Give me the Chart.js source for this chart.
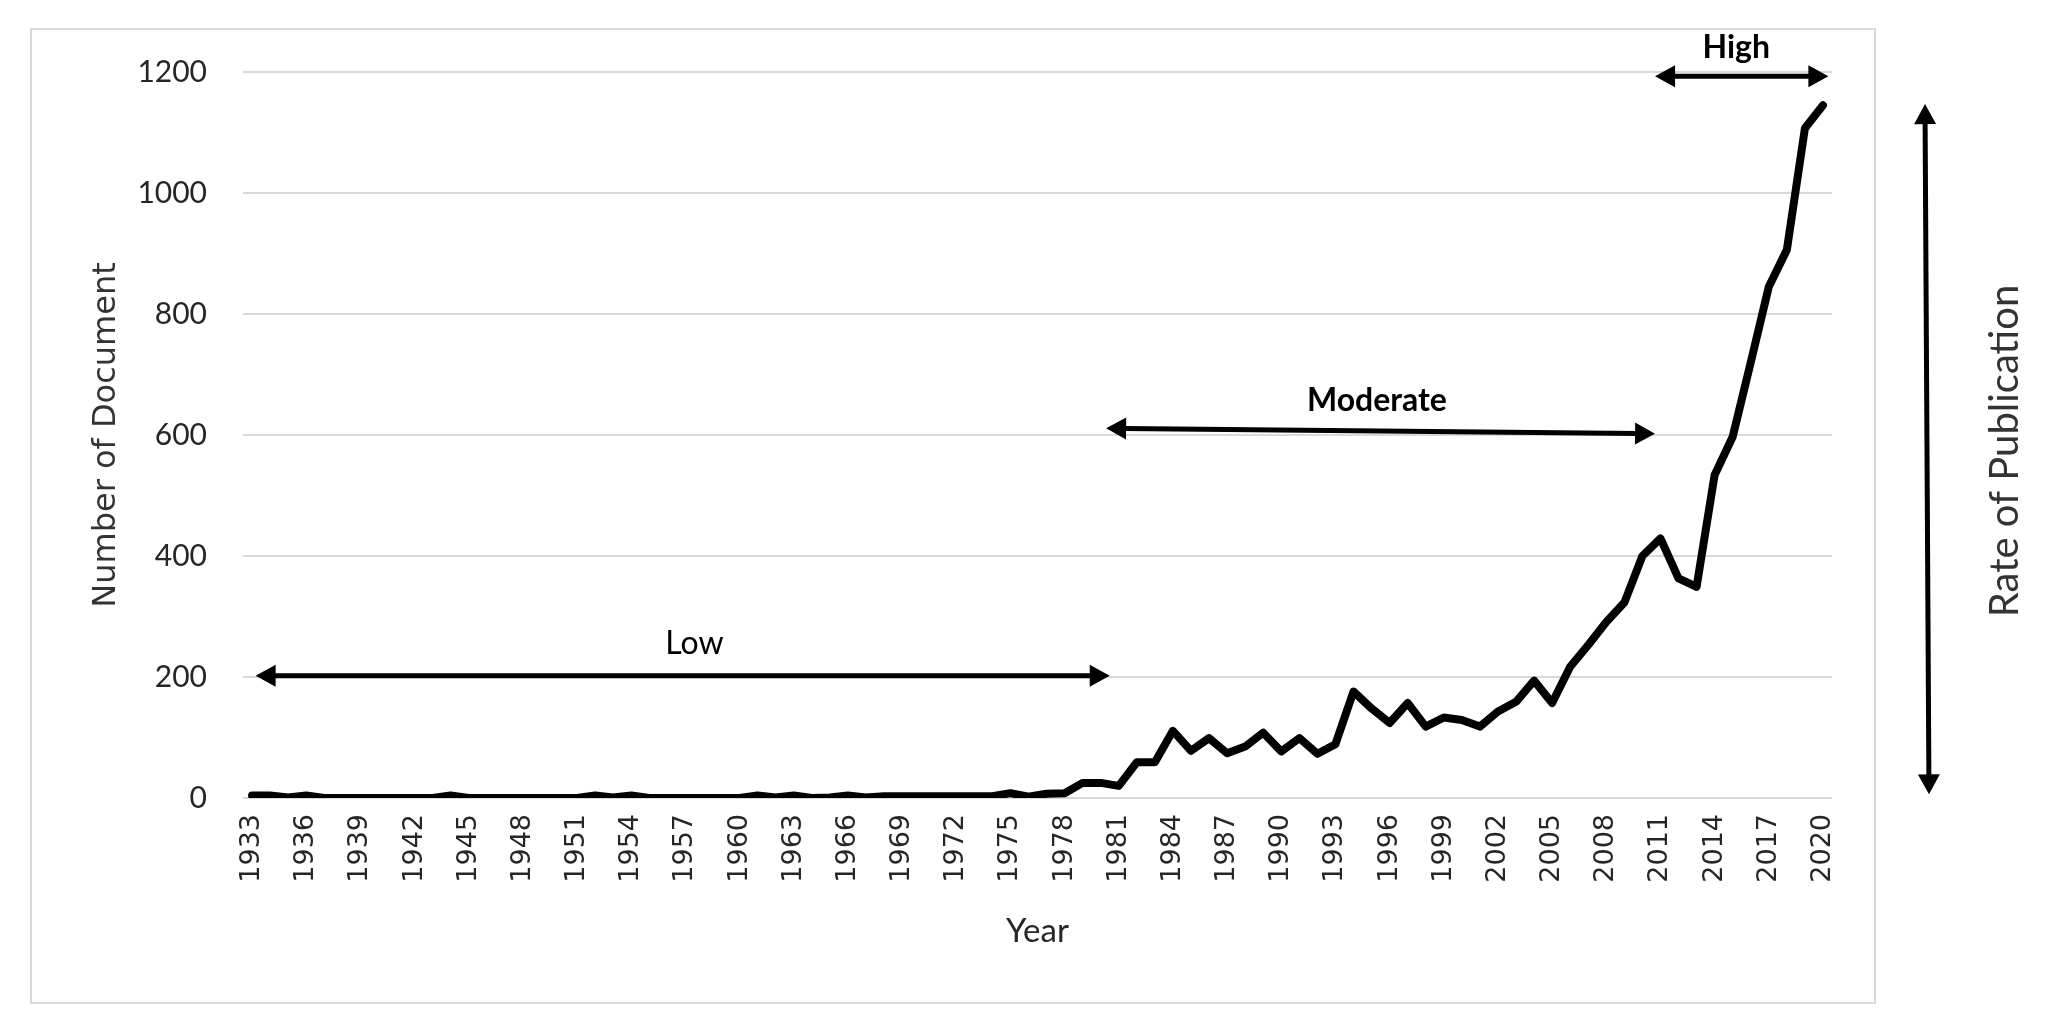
<!DOCTYPE html>
<html lang="en">
<head>
<meta charset="utf-8">
<title>Number of Document per Year</title>
<style>
  html, body { margin: 0; padding: 0; background: #fff; }
  canvas { display: block; }
</style>
</head>
<body>
<canvas id="docChart" width="2048" height="1026"></canvas>
<script src="https://cdn.jsdelivr.net/npm/chart.js@4/dist/chart.umd.min.js"></script>
<script>
// years on the category axis
const years = [
  '1933','1934','1935','1936','1937','1938','1939','1940','1941','1942',
  '1943','1944','1945','1946','1947','1948','1949','1950','1951','1952',
  '1953','1954','1955','1956','1957','1958','1959','1960','1961','1962',
  '1963','1964','1965','1966','1967','1968','1969','1970','1971','1972',
  '1973','1974','1975','1976','1977','1978','1979','1980','1981','1982',
  '1983','1984','1985','1986','1987','1988','1989','1990','1991','1992',
  '1993','1994','1995','1996','1997','1998','1999','2000','2001','2002',
  '2003','2004','2005','2006','2007','2008','2009','2010','2011','2012',
  '2013','2014','2015','2016','2017','2018','2019','2020'
];

// number of documents
const documents = [
  4, 4, 1, 4, 0, 0, 0, 0, 0, 0,
  0, 4, 0, 0, 0, 0, 0, 0, 0, 4,
  1, 4, 0, 0, 0, 0, 0, 0, 4, 1,
  4, 0, 1, 4, 1, 3, 3, 3, 3, 3,
  3, 3, 8, 2, 7, 8, 25, 25, 20, 59,
  59, 111, 78, 99, 74, 85, 108, 77, 99, 73,
  89, 176, 148, 124, 157, 118, 133, 129, 118, 143,
  159, 194, 157, 217, 253, 291, 323, 400, 429, 363,
  349, 534, 597, 720, 845, 906, 1107, 1145
];

// labelled years (every third one) and y ticks
const xTickLabels = [
  '1933','1936','1939','1942','1945','1948','1951','1954','1957','1960',
  '1963','1966','1969','1972','1975','1978','1981','1984','1987','1990',
  '1993','1996','1999','2002','2005','2008','2011','2014','2017','2020'
];
const yTickValues = [0, 200, 400, 600, 800, 1000, 1200];

const phaseNames = ['Low', 'Moderate', 'High'];
const sideTitle = 'Rate of Publication';

function arrowHead(ctx, tx, ty, ang, len, half) {
  const bx = tx - len * Math.cos(ang), by = ty - len * Math.sin(ang);
  ctx.beginPath();
  ctx.moveTo(tx, ty);
  ctx.lineTo(bx + half * Math.sin(ang), by - half * Math.cos(ang));
  ctx.lineTo(bx - half * Math.sin(ang), by + half * Math.cos(ang));
  ctx.closePath();
  ctx.fill();
}

function doubleArrow(ctx, x1, y1, x2, y2) {
  const ang = Math.atan2(y2 - y1, x2 - x1);
  const len = 20, half = 11;
  ctx.save();
  ctx.strokeStyle = '#000';
  ctx.fillStyle = '#000';
  ctx.lineWidth = 5;
  ctx.beginPath();
  ctx.moveTo(x1 + (len - 2) * Math.cos(ang), y1 + (len - 2) * Math.sin(ang));
  ctx.lineTo(x2 - (len - 2) * Math.cos(ang), y2 - (len - 2) * Math.sin(ang));
  ctx.stroke();
  arrowHead(ctx, x2, y2, ang, len, half);
  arrowHead(ctx, x1, y1, ang + Math.PI, len, half);
  ctx.restore();
}

const annotate = {
  id: 'annotate',
  beforeDraw(chart) {
    const ctx = chart.ctx;
    ctx.save();
    ctx.fillStyle = '#fff';
    ctx.fillRect(0, 0, chart.width, chart.height);
    ctx.strokeStyle = '#d9d9d9';
    ctx.lineWidth = 2;
    ctx.strokeRect(31, 29, 1844, 974);
    ctx.restore();
  },
  afterDraw(chart) {
    const ctx = chart.ctx;
    const x = chart.scales.x, y = chart.scales.y;
    const area = chart.chartArea;

    // phase arrows
    doubleArrow(ctx, x.getPixelForValue(0.2), y.getPixelForValue(202),
                     x.getPixelForValue(47.5), y.getPixelForValue(202));
    doubleArrow(ctx, x.getPixelForValue(47.3), y.getPixelForValue(611),
                     x.getPixelForValue(77.7), y.getPixelForValue(602));
    doubleArrow(ctx, x.getPixelForValue(77.7), y.getPixelForValue(1193),
                     x.getPixelForValue(87.3), y.getPixelForValue(1193));

    // vertical arrow on the right
    doubleArrow(ctx, area.right + 93, y.getPixelForValue(1147),
                     area.right + 97, y.getPixelForValue(6));

    ctx.save();
    ctx.fillStyle = '#000';
    ctx.textAlign = 'center';
    ctx.textBaseline = 'middle';
    ctx.font = '32px Lato';
    ctx.fillText(phaseNames[0], x.getPixelForValue(24.5), y.getPixelForValue(255));
    ctx.font = 'bold 32px Lato';
    ctx.fillText(phaseNames[1], x.getPixelForValue(62.3), y.getPixelForValue(656));
    ctx.fillText(phaseNames[2], x.getPixelForValue(82.2), y.getPixelForValue(1241));

    ctx.fillStyle = '#333';
    ctx.font = '40px Lato';
    ctx.translate(area.right + 173, (area.top + area.bottom) / 2 + 16);
    ctx.rotate(-Math.PI / 2);
    ctx.fillText(sideTitle, 0, 0);
    ctx.restore();
  }
};

const data = {
  labels: years,
  datasets: [{
    label: 'Number of Document',
    data: documents,
    borderColor: '#000',
    backgroundColor: '#000',
    borderWidth: 8,
    borderJoinStyle: 'round',
    borderCapStyle: 'round',
    pointRadius: 0,
    tension: 0
  }]
};

const options = {
  responsive: false,
  animation: false,
  layout: { padding: { left: 0, top: 72, right: 216, bottom: 0 } },
  plugins: {
    legend: { display: false },
    tooltip: { enabled: false }
  },
  scales: {
    x: {
      offset: true,
      grid: { display: false, drawTicks: false },
      border: { display: false },
      afterFit: (scale) => { scale.height = 228; },
      ticks: {
        autoSkip: false,
        minRotation: 90,
        maxRotation: 90,
        padding: 16,
        color: '#262626',
        font: { family: 'DejaVu Sans', size: 27 },
        callback: function (value, index) {
          const yr = years[index];
          return xTickLabels.includes(yr) ? yr : '';
        }
      },
      title: {
        display: true,
        text: 'Year',
        color: '#262626',
        font: { family: 'Lato', size: 33 },
        padding: { top: 0, bottom: 75 }
      }
    },
    y: {
      min: 0,
      max: 1200,
      grid: { color: '#d9d9d9', lineWidth: 2, drawTicks: false },
      border: { display: false },
      afterFit: (scale) => { scale.width = 243; },
      afterBuildTicks: (scale) => { scale.ticks = yTickValues.map(v => ({ value: v })); },
      ticks: {
        padding: 36,
        color: '#262626',
        font: { family: 'Lato', size: 30 },
        callback: (value) => String(value)
      },
      title: {
        display: true,
        text: 'Number of Document',
        color: '#333',
        font: { family: 'DejaVu Sans', size: 32 },
        padding: { top: 87, bottom: 0 }
      }
    }
  }
};

const docChart = new Chart(document.getElementById('docChart'), {
  type: 'line',
  data,
  options,
  plugins: [annotate]
});
</script>
</body>
</html>
